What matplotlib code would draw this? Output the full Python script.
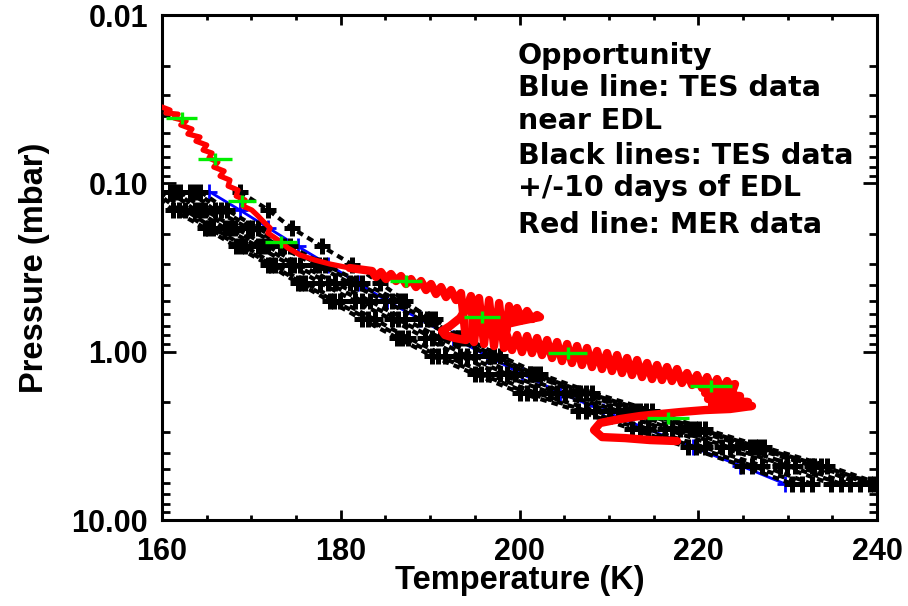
import matplotlib
matplotlib.use('Agg')
import matplotlib.pyplot as plt
from matplotlib.ticker import MultipleLocator, LogLocator, FixedLocator, FixedFormatter, NullFormatter

# TES pressure levels (mbar)
tes_p = [0.112, 0.144, 0.184, 0.237, 0.304, 0.390, 0.501, 0.643, 0.826, 1.06,
         1.36, 1.75, 2.24, 2.88, 3.70, 4.75, 6.10]

# blue: TES profile nearest to EDL (K)
tes_edl_t = [165.3, 168.7, 171.9, 175.2, 178.6, 181.9, 185.2, 188.9, 192.6, 196.4,
             200.3, 204.5, 209.3, 214.3, 219.4, 224.7, 229.7]

# black: TES profiles +/-10 days of EDL (K)
tes_near_t = [
    [158.7, 161.2, 164.8, 168.3, 171.9, 175.2, 178.8, 182.4, 186.3, 190.2, 195.0, 200.0, 206.5, 212.6, 218.8, 224.9, 230.5],
    [159.2, 161.9, 165.2, 168.8, 172.2, 175.6, 179.3, 183.1, 186.9, 190.9, 195.7, 200.8, 207.4, 213.5, 219.7, 226.0, 231.6],
    [159.8, 162.6, 165.7, 169.3, 172.6, 176.0, 179.9, 183.8, 187.5, 191.7, 196.5, 201.7, 208.4, 214.4, 220.7, 227.1, 232.7],
    [160.9, 163.7, 167.0, 170.7, 174.3, 177.7, 181.6, 185.7, 189.4, 193.3, 197.8, 203.4, 210.1, 216.3, 222.6, 229.1, 234.9],
    [161.5, 164.2, 167.6, 171.3, 174.8, 178.6, 182.4, 186.4, 190.2, 194.1, 198.6, 204.2, 211.0, 217.1, 223.5, 229.9, 236.0],
    [162.0, 164.8, 168.2, 171.9, 175.4, 179.4, 183.3, 187.2, 191.1, 195.0, 199.5, 205.1, 211.8, 217.9, 224.4, 230.8, 237.0],
    [163.1, 165.9, 169.6, 173.2, 177.1, 181.0, 184.9, 188.9, 192.8, 196.7, 201.2, 206.8, 213.5, 219.6, 226.3, 233.0, 239.2],
    [163.7, 166.6, 170.1, 173.7, 177.6, 181.7, 185.7, 189.7, 193.3, 197.2, 201.7, 207.4, 214.1, 220.1, 226.8, 233.7, 239.7],
    [164.3, 167.3, 170.7, 174.3, 178.2, 182.4, 186.6, 190.5, 193.9, 197.8, 202.3, 208.1, 214.8, 220.7, 227.4, 234.4, 240.3],
    [168.7, 171.9, 174.5, 177.9, 181.3, 184.4, 187.2, 190.0, 193.1, 196.7, 201.2, 206.5, 212.9, 219.1, 225.8, 232.7, 238.1],
]

# red: MER descent profile (K, mbar)
mer_t = [160.0, 160.9, 160.45, 161.8, 161.35, 162.7, 162.1, 163.35, 162.9, 164.25,
         163.8, 165.0, 164.6, 165.6, 165.25, 166.25, 165.8, 166.95, 166.5, 167.6,
         167.4, 168.5, 168.3, 169.3, 169.05, 170.05, 170.75, 171.4, 172.1, 171.85,
         173.0, 174.1, 175.45, 177.1, 178.8, 181.0,
         183.50, 183.94, 184.50, 185.06, 185.62, 186.18, 186.74, 187.30, 187.86, 188.42,
         188.98, 189.54, 190.10, 190.66, 191.22, 191.78, 192.34, 192.90, 193.45,
         194.01, 192.78, 191.66, 191.33, 192.22, 193.34, 194.24,
         194.57, 194.91, 195.47, 196.03, 196.59, 197.15, 197.71, 198.27, 198.83,
         199.16, 199.72, 200.28, 200.84, 201.40, 201.96, 202.29,
         200.06, 198.60, 198.49,
         199.16, 199.72, 200.28, 200.84, 201.40, 201.96, 202.52, 203.08, 203.64, 204.20,
         204.76, 205.32, 205.87, 206.43, 206.99, 207.55, 208.11, 208.67, 209.23, 209.79,
         210.35, 210.91, 211.47, 212.03, 212.59, 213.15, 213.71, 214.27, 214.83, 215.38,
         215.94, 216.50, 217.06, 217.62, 218.18, 218.74, 219.30, 219.86, 220.42, 220.98,
         221.54, 222.10, 222.66, 223.22, 223.78, 224.11,
         220.76, 224.67, 221.09, 225.57, 221.54, 226.01, 223.55, 220.76, 217.96, 215.72,
         213.48, 211.24, 209.01, 208.34, 209.23, 211.80, 214.60, 217.62]
mer_p = [0.0352, 0.0367, 0.0382, 0.0388, 0.0409, 0.0426, 0.0450, 0.0476, 0.0509, 0.0531,
         0.0561, 0.0592, 0.0634, 0.0661, 0.0707, 0.0747, 0.0800, 0.0845, 0.0905, 0.0956,
         0.1037, 0.1096, 0.1190, 0.1256, 0.1364, 0.1441, 0.1563, 0.1698, 0.1842, 0.1973,
         0.2171, 0.2423, 0.2666, 0.2855, 0.3015, 0.3184,
         0.3317, 0.3601, 0.3363, 0.3702, 0.3456, 0.3804, 0.3553, 0.3963, 0.3702, 0.4130,
         0.3804, 0.4302, 0.3963, 0.4544, 0.4130, 0.4735, 0.4302, 0.4933, 0.4482,
         0.8527, 0.8297, 0.7963, 0.7538, 0.7040, 0.6311, 0.5355,
         0.4670, 0.8764, 0.4799, 0.9004, 0.4933, 0.9258, 0.5139, 0.9511, 0.5355,
         0.6574, 0.5503, 0.6485, 0.5733, 0.6397, 0.6056, 0.6226,
         0.6574, 0.6850, 0.7749,
         0.9775, 0.7963, 1.005, 0.8073, 1.019, 0.8297, 1.047, 0.8527, 1.0906, 0.8764,
         1.137, 0.9004, 1.1676, 0.9258, 1.2000, 0.9511, 1.234, 0.9909, 1.2677, 1.019,
         1.303, 1.047, 1.3391, 1.0906, 1.3762, 1.121, 1.415, 1.1676, 1.454, 1.2000,
         1.4733, 1.234, 1.494, 1.2677, 1.5351, 1.3391, 1.578, 1.3762, 1.644, 1.415,
         1.6899, 1.454, 1.7132, 1.494, 1.737, 1.557,
         1.7606, 1.835, 1.9103, 1.9905, 2.0458, 2.1025, 2.1906, 2.222, 2.284, 2.3462,
         2.4113, 2.513, 2.6532, 2.922, 3.216, 3.261, 3.350, 3.396]
# the noisy lower part of the descent starts here
mer_noisy_from = 35

# green: MER points with temperature uncertainty
err_t = [162.2, 165.9, 168.95, 173.3, 187.3, 195.8, 205.4, 221.4, 216.6]
err_p = [0.0409, 0.0717, 0.1274, 0.2232, 0.380, 0.623, 1.019, 1.600, 2.479]
err_dt = [1.75, 1.9, 1.6, 1.8, 1.8, 2.0, 2.2, 2.35, 2.35]

p_ticks = [0.01, 0.1, 1.0, 10.0]
p_labels = ['0.01', '0.10', '1.00', '10.00']

fig = plt.figure(figsize=(9.08, 6.06), dpi=100)
ax = fig.add_axes([0.1784, 0.1419, 0.7875, 0.8333])

ax.plot(tes_edl_t, tes_p, color='#0000ff', lw=2.0, marker='+', ms=11, mew=2.0, zorder=2)
for prof in tes_near_t:
    ax.plot(prof, tes_p, color='black', lw=3.0, ls=(0, (1.6, 1.2)), marker='+',
            ms=12, mew=3.6, zorder=3)

k = mer_noisy_from
ax.plot(mer_t[:k + 1], mer_p[:k + 1], color='#ff0000', lw=3.8,
        solid_joinstyle='round', solid_capstyle='round', zorder=4)
ax.plot(mer_t[k:], mer_p[k:], color='#ff0000', lw=6.0,
        solid_joinstyle='round', solid_capstyle='round', zorder=4)

ax.errorbar(err_t, err_p, xerr=err_dt, fmt='none', ecolor='#00ee00', elinewidth=2.4,
            capsize=0, zorder=5)
ax.plot(err_t, err_p, ls='none', marker='|', ms=9, mew=2.4, color='#00ee00', zorder=5)

ax.set_yscale('log')
ax.set_ylim(10, 0.01)
ax.set_xlim(160, 240)

ax.xaxis.set_major_locator(MultipleLocator(20))
ax.xaxis.set_minor_locator(MultipleLocator(5))
ax.yaxis.set_major_locator(FixedLocator(p_ticks))
ax.yaxis.set_major_formatter(FixedFormatter(p_labels))
ax.yaxis.set_minor_locator(LogLocator(base=10, subs=range(2, 10)))
ax.yaxis.set_minor_formatter(NullFormatter())

tick_font = matplotlib.font_manager.FontProperties(family='Liberation Sans', weight='bold', size=22)
for lab in ax.get_xticklabels() + ax.get_yticklabels():
    lab.set_fontproperties(tick_font)

ax.tick_params(which='both', direction='in', top=True, right=True, width=2)
ax.tick_params(axis='x', which='major', length=7.5, pad=12)
ax.tick_params(axis='x', which='minor', length=3.6)
ax.tick_params(axis='y', which='major', length=10, pad=10)
ax.tick_params(axis='y', which='minor', length=5.8)
for s in ax.spines.values():
    s.set_linewidth(2.2)

ax.set_xlabel('Temperature (K)', family='Liberation Sans', weight='bold', fontsize=23.5)
ax.set_ylabel('Pressure (mbar)', family='Liberation Sans', weight='bold', fontsize=23.5)
ax.xaxis.set_label_coords(0.5, -0.09)
ax.yaxis.set_label_coords(-0.157, 0.5)

note = {'family': 'DejaVu Sans', 'weight': 'bold', 'fontsize': 20.5, 'va': 'top', 'ha': 'left'}
fig.text(0.5705, 0.9307, 'Opportunity\nBlue line: TES data\nnear EDL', **note)
fig.text(0.5705, 0.7657, 'Black lines: TES data\n+/-10 days of EDL', **note)
fig.text(0.5705, 0.6518, 'Red line: MER data', **note)

fig.savefig('out.png', dpi=100)
